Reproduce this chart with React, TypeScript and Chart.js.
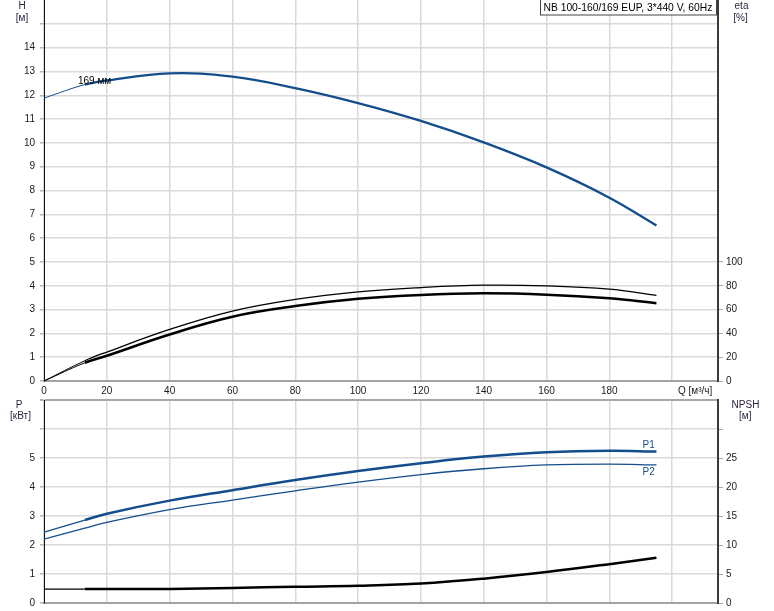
import React, { useEffect, useRef } from 'react';
import { Chart, registerables } from 'chart.js';
Chart.register(...registerables);

// ---- data ----
const Q = [0, 13, 20, 40, 60, 80, 100, 120, 140, 160, 180, 195];
const H = [11.88, 12.45, 12.62, 12.92, 12.78, 12.3, 11.67, 10.92, 10.02, 8.97, 7.7, 6.53];
const ETA_UPPER = [0, 17, 24.3, 43.3, 58.7, 68.5, 74.9, 78.5, 80.5, 79.9, 77.1, 72];
const ETA_LOWER = [0, 15.3, 21.2, 39.1, 54, 62.9, 69, 72.3, 73.6, 72.5, 69.4, 65.4];
const P1 = [2.44, 2.86, 3.08, 3.53, 3.89, 4.24, 4.55, 4.82, 5.05, 5.2, 5.25, 5.22];
const P2 = [2.2, 2.58, 2.78, 3.22, 3.55, 3.87, 4.17, 4.43, 4.63, 4.76, 4.79, 4.76];
const NPSH = [2.38, 2.4, 2.4, 2.43, 2.6, 2.8, 2.97, 3.35, 4.2, 5.35, 6.7, 7.8];

const Q_TICKS = [0, 20, 40, 60, 80, 100, 120, 140, 160, 180, 200];
const Q_LABEL_MAX = 180;
const H_TICKS = [0, 1, 2, 3, 4, 5, 6, 7, 8, 9, 10, 11, 12, 13, 14, 15];
const H_LABEL_MAX = 14;
const ETA_TICKS = [0, 20, 40, 60, 80, 100];
const P_TICKS = [0, 1, 2, 3, 4, 5, 6, 7];
const P_LABEL_MAX = 5;
const NPSH_TICKS = [0, 5, 10, 15, 20, 25, 30];
const NPSH_LABEL_MAX = 25;

const TITLE = 'NB 100-160/169 EUP, 3*440 V, 60Hz';
const CURVE_LABEL = '169 мм';
const THICK_FROM = 13;

const FONT = '"Liberation Sans", Arial, sans-serif';
const BLUE = '#134d8c';
const GRID = '#d9d9d9';
const TXT = '#1a1a1a';
const TITLE_TXT = '#2e2240';

const pts = (ys: number[]) => Q.map((q, i) => ({ x: q, y: ys[i] }));
const ticksOf = (arr: number[]) => (s: any) => { s.ticks = arr.map((v) => ({ value: v })); };

const line = (label: string, data: any, axis: string, color: string, thin: number, thick: number) => ({
  label,
  data,
  yAxisID: axis,
  borderColor: color,
  borderWidth: thick,
  pointRadius: 0,
  tension: 0.4,
  fill: false,
  segment: {
    borderWidth: (c: any) => (c.p0.parsed.x < THICK_FROM ? thin : thick),
  },
});

const font = { family: FONT, size: 10 };

function text(ctx: CanvasRenderingContext2D, s: string, x: number, y: number, align: CanvasTextAlign, color = TXT, size = 10) {
  ctx.font = `${size}px ${FONT}`;
  ctx.fillStyle = color;
  ctx.textAlign = align;
  ctx.textBaseline = 'middle';
  ctx.fillText(s, x, y);
}

export default function App() {
  const topRef = useRef<HTMLCanvasElement>(null);
  const botRef = useRef<HTMLCanvasElement>(null);

  useEffect(() => {
    const xScale = (labels: boolean, height: number) => ({
      type: 'linear' as const,
      min: 0,
      max: 214.6,
      position: 'bottom' as const,
      afterBuildTicks: ticksOf(Q_TICKS),
      afterFit: (s: any) => { s.height = height; s.paddingLeft = 0; s.paddingRight = 0; },
      grid: { color: GRID, lineWidth: 1.5, drawTicks: false },
      border: { color: '#a3a3a3', width: 2 },
      ticks: {
        display: labels,
        autoSkip: false,
        maxRotation: 0,
        padding: 4,
        font,
        color: TXT,
        callback: (v: any) => (v <= Q_LABEL_MAX ? String(v) : ''),
      },
    });

    const leftY = (max: number, tks: number[], labelMax: number) => ({
      type: 'linear' as const,
      min: 0,
      max,
      position: 'left' as const,
      afterBuildTicks: ticksOf(tks),
      afterFit: (s: any) => { s.width = 44; s.paddingTop = 0; s.paddingBottom = 0; },
      grid: {
        color: (c: any) => (c.tick && c.tick.value === max ? '#a8a8a8' : GRID),
        lineWidth: (c: any) => (c.tick && c.tick.value === max ? 2 : 1.5),
        tickLength: 4,
        tickColor: '#b5b5b5',
      },
      border: { color: '#111', width: 1 },
      ticks: {
        autoSkip: false,
        padding: 5,
        font,
        color: TXT,
        callback: (v: any) => (v <= labelMax ? String(v) : ''),
      },
    });

    const rightY = (max: number, tks: number[], labelMax: number) => ({
      type: 'linear' as const,
      min: 0,
      max,
      position: 'right' as const,
      afterBuildTicks: ticksOf(tks),
      afterFit: (s: any) => { s.width = 56; s.paddingTop = 0; s.paddingBottom = 0; },
      grid: { display: true, drawOnChartArea: false, tickLength: 5, color: '#a8a8a8' },
      border: { color: '#3a3a3a', width: 2 },
      ticks: {
        autoSkip: false,
        padding: 3,
        font,
        color: TXT,
        callback: (v: any) => (v <= labelMax ? String(v) : ''),
      },
    });

    const topTexts = {
      id: 'topTexts',
      afterDraw(chart: any) {
        const ctx = chart.ctx as CanvasRenderingContext2D;
        const x = chart.scales.x;
        const y = chart.scales.y;
        ctx.save();
        text(ctx, 'H', 22, 6, 'center', TITLE_TXT);
        text(ctx, '[м]', 22, 18, 'center', TITLE_TXT);
        text(ctx, 'eta', 741.5, 6, 'center', TITLE_TXT);
        text(ctx, '[%]', 740.5, 18, 'center', TITLE_TXT);
        // title box
        ctx.fillStyle = '#fff';
        ctx.fillRect(540.5, -0.5, 176, 15.5);
        ctx.strokeStyle = '#444';
        ctx.lineWidth = 1;
        ctx.strokeRect(540.5, -0.5, 176, 15.5);
        text(ctx, TITLE, 543.5, 8, 'left', '#000', 10.3);
        text(ctx, 'Q [м³/ч]', 678, 391.5, 'left', TXT);
        text(ctx, CURVE_LABEL, x.getPixelForValue(10.8), y.getPixelForValue(12.6), 'left', '#000');
        ctx.restore();
      },
    };

    const botTexts = {
      id: 'botTexts',
      afterDraw(chart: any) {
        const ctx = chart.ctx as CanvasRenderingContext2D;
        const x = chart.scales.x;
        const y = chart.scales.y;
        ctx.save();
        text(ctx, 'P', 19, 13, 'center', TITLE_TXT);
        text(ctx, '[кВт]', 20.5, 24.7, 'center', TITLE_TXT);
        text(ctx, 'NPSH', 745.5, 13, 'center', TITLE_TXT);
        text(ctx, '[м]', 745.3, 24.7, 'center', TITLE_TXT);
        text(ctx, 'P1', x.getPixelForValue(190.6), y.getPixelForValue(5.43), 'left', BLUE);
        text(ctx, 'P2', x.getPixelForValue(190.6), y.getPixelForValue(4.5), 'left', BLUE);
        ctx.restore();
      },
    };

    const top = new Chart(topRef.current!, {
      type: 'line',
      data: {
        datasets: [
          line('H', pts(H), 'y', BLUE, 1, 2.3),
          line('eta1', pts(ETA_UPPER), 'yr', '#000', 1, 1.3),
          line('eta2', pts(ETA_LOWER), 'yr', '#000', 1, 2.5),
        ],
      },
      options: {
        animation: false,
        responsive: false,
        devicePixelRatio: 1,
        layout: { padding: 0 },
        plugins: { legend: { display: false }, tooltip: { enabled: false } },
        scales: {
          x: xScale(true, 19),
          y: leftY(16, H_TICKS, H_LABEL_MAX),
          yr: rightY(320, ETA_TICKS, 100),
        },
      } as any,
      plugins: [topTexts],
    });

    const bot = new Chart(botRef.current!, {
      type: 'line',
      data: {
        datasets: [
          line('P1', pts(P1), 'y', BLUE, 1.2, 2.5),
          line('P2', pts(P2), 'y', BLUE, 1.3, 1.3),
          line('NPSH', pts(NPSH), 'yr', '#000', 1.2, 2.5),
        ],
      },
      options: {
        animation: false,
        responsive: false,
        devicePixelRatio: 1,
        layout: { padding: { top: 8, left: 0, right: 0, bottom: 0 } },
        plugins: { legend: { display: false }, tooltip: { enabled: false } },
        scales: {
          x: xScale(false, 8),
          y: leftY(7, P_TICKS, P_LABEL_MAX),
          yr: rightY(35, NPSH_TICKS, NPSH_LABEL_MAX),
        },
      } as any,
      plugins: [botTexts],
    });

    return () => {
      top.destroy();
      bot.destroy();
    };
  }, []);

  return (
    <div style={{ position: 'absolute', left: 0, top: 0, width: 774, height: 611, background: '#fff' }}>
      <canvas ref={topRef} width={774} height={400} style={{ position: 'absolute', left: 0, top: 0 }} />
      <canvas ref={botRef} width={774} height={219} style={{ position: 'absolute', left: 0, top: 392 }} />
    </div>
  );
}
